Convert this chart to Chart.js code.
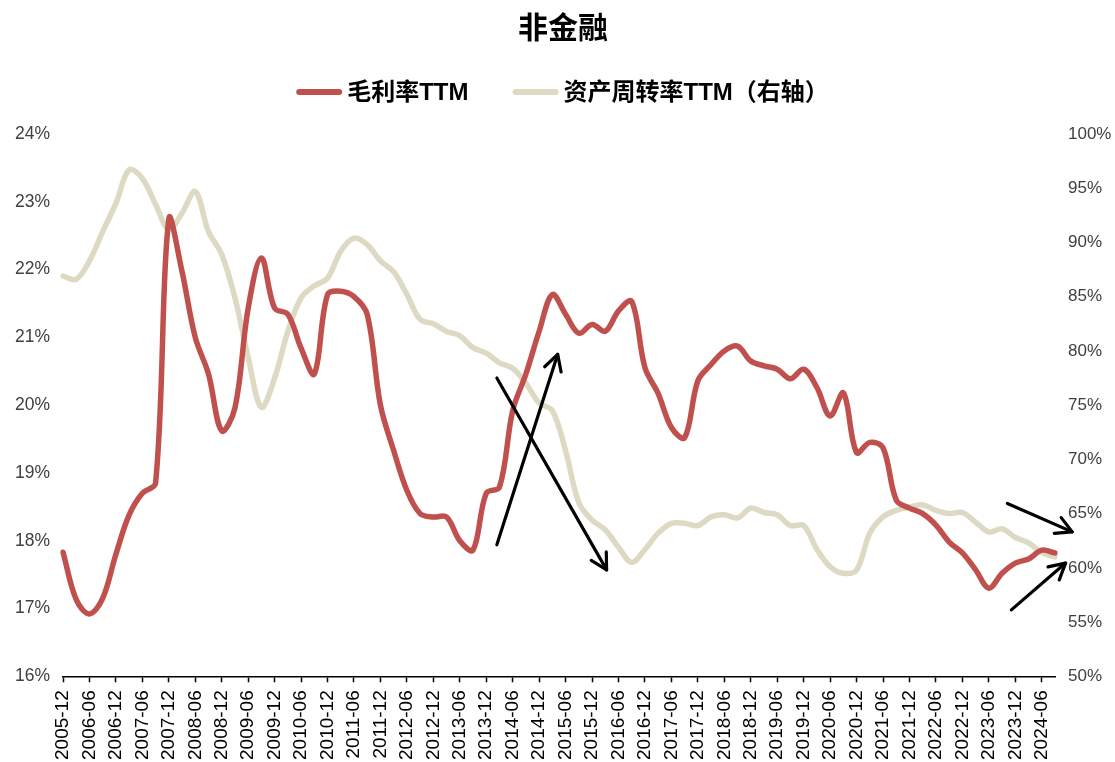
<!DOCTYPE html>
<html>
<head>
<meta charset="utf-8">
<script src="https://cdn.jsdelivr.net/npm/chart.js@4.4.1/dist/chart.umd.min.js"></script>
<style>
html,body{margin:0;padding:0;background:#fff;}
#wrap{width:1115px;height:762px;}
</style>
</head>
<body>
<div id="wrap"><canvas id="c"></canvas></div>
<script>
const categories = [
 "2005-12",
 "2006-03","2006-06","2006-09","2006-12",
 "2007-03","2007-06","2007-09","2007-12",
 "2008-03","2008-06","2008-09","2008-12",
 "2009-03","2009-06","2009-09","2009-12",
 "2010-03","2010-06","2010-09","2010-12",
 "2011-03","2011-06","2011-09","2011-12",
 "2012-03","2012-06","2012-09","2012-12",
 "2013-03","2013-06","2013-09","2013-12",
 "2014-03","2014-06","2014-09","2014-12",
 "2015-03","2015-06","2015-09","2015-12",
 "2016-03","2016-06","2016-09","2016-12",
 "2017-03","2017-06","2017-09","2017-12",
 "2018-03","2018-06","2018-09","2018-12",
 "2019-03","2019-06","2019-09","2019-12",
 "2020-03","2020-06","2020-09","2020-12",
 "2021-03","2021-06","2021-09","2021-12",
 "2022-03","2022-06","2022-09","2022-12",
 "2023-03","2023-06","2023-09","2023-12",
 "2024-03","2024-06","2024-09"
];

// 毛利率TTM (%), left axis
const grossMargin = [
 17.83,
 17.13,16.92,17.15,17.80,
 18.38,18.70,18.85,22.75,
 21.97,21.00,20.46,19.62,
 19.96,21.43,22.17,21.43,
 21.34,20.84,20.46,21.63,
 21.68,21.60,21.34,20.00,
 19.33,18.74,18.40,18.35,
 18.35,18.00,17.86,18.70,
 18.79,19.92,20.46,21.09,
 21.63,21.34,21.06,21.19,
 21.09,21.39,21.53,20.55,
 20.17,19.67,19.52,20.36,
 20.60,20.80,20.87,20.65,
 20.58,20.53,20.39,20.53,
 20.26,19.84,20.18,19.30,
 19.45,19.37,18.60,18.48,
 18.40,18.23,17.98,17.82,
 17.57,17.30,17.52,17.67,
 17.73,17.86,17.82
];

// 资产周转率TTM (%), right axis
const assetTurnover = [
 86.9,
 86.6,88.3,91.0,93.6,
 96.7,95.9,93.5,91.2,
 92.7,94.7,91.0,88.9,
 84.9,79.4,74.8,77.5,
 81.8,84.9,86.0,86.7,
 89.2,90.4,89.8,88.3,
 87.3,85.2,82.9,82.5,
 81.8,81.4,80.3,79.8,
 78.9,78.4,77.0,75.2,
 74.5,70.8,66.0,64.4,
 63.5,61.9,60.5,61.7,
 63.2,64.1,64.1,63.9,
 64.7,64.9,64.6,65.5,
 65.1,64.9,63.9,63.9,
 61.7,60.1,59.5,59.8,
 63.2,64.7,65.3,65.6,
 65.8,65.3,65.0,65.1,
 64.2,63.3,63.6,62.8,
 62.3,61.4,61.0
];

const leftTicks = {min:16, max:24, step:1};
const rightTicks = {min:50, max:100, step:5};

// annotation arrows in data space: [categoryIndex, left-axis value]
const arrows = [
 {from:[32.8,17.94], to:[37.4,20.75]},
 {from:[32.8,20.40], to:[41.1,17.57]},
 {from:[71.4,18.55], to:[76.3,18.13]},
 {from:[71.7,16.98], to:[75.8,17.67]}
];

const FONT = '"Liberation Sans", Arial, "Noto Sans CJK SC", sans-serif';

const arrowPlugin = {
  id:'arrows',
  afterDraw(chart){
    const ctx = chart.ctx, xs = chart.scales.x, ys = chart.scales.y;
    ctx.save();
    ctx.strokeStyle = '#000';
    ctx.lineWidth = 3.2;
    ctx.lineCap = 'round';
    ctx.lineJoin = 'round';
    arrows.forEach(a=>{
      const x1 = xs.getPixelForValue(a.from[0]), y1 = ys.getPixelForValue(a.from[1]);
      const x2 = xs.getPixelForValue(a.to[0]), y2 = ys.getPixelForValue(a.to[1]);
      ctx.beginPath(); ctx.moveTo(x1,y1); ctx.lineTo(x2,y2); ctx.stroke();
      const ang = Math.atan2(y2-y1,x2-x1), L = 18, w = 0.5;
      ctx.beginPath();
      ctx.moveTo(x2 - L*Math.cos(ang-w), y2 - L*Math.sin(ang-w));
      ctx.lineTo(x2,y2);
      ctx.lineTo(x2 - L*Math.cos(ang+w), y2 - L*Math.sin(ang+w));
      ctx.stroke();
    });
    ctx.restore();
  }
};

// legend drawn between the title and the plot, centred on the canvas
const legendPlugin = {
  id:'lineLegend',
  afterDraw(chart){
    const ctx = chart.ctx;
    const y = chart.chartArea.top - 42;
    const lineW = 46, gapTxt = 5, gapItem = 44;
    ctx.save();
    ctx.font = 'bold 24px ' + FONT;
    ctx.textBaseline = 'middle';
    const items = chart.data.datasets.map(d=>({text:d.label, color:d.borderColor, w: lineW + gapTxt + ctx.measureText(d.label).width}));
    const total = items.reduce((s,i)=>s+i.w,0) + gapItem*(items.length-1);
    let x = chart.width/2 + 5 - total/2;
    items.forEach(it=>{
      ctx.strokeStyle = it.color; ctx.lineWidth = 6; ctx.lineCap = 'round';
      ctx.beginPath(); ctx.moveTo(x+3,y); ctx.lineTo(x+lineW-3,y); ctx.stroke();
      ctx.fillStyle = '#000';
      ctx.fillText(it.text, x + lineW + gapTxt, y + 1);
      x += it.w + gapItem;
    });
    ctx.restore();
  }
};

new Chart(document.getElementById('c'), {
  type:'line',
  data:{
    labels:categories,
    datasets:[
      {label:'毛利率TTM', data:grossMargin, yAxisID:'y', borderColor:'#C0504D', backgroundColor:'#C0504D',
       borderWidth:5.5, pointRadius:0, tension:0.35, borderCapStyle:'round', borderJoinStyle:'round'},
      {label:'资产周转率TTM（右轴）', data:assetTurnover, yAxisID:'y1', borderColor:'#DDD9C3', backgroundColor:'#DDD9C3',
       borderWidth:5.5, pointRadius:0, tension:0.35, borderCapStyle:'round', borderJoinStyle:'round'}
    ]
  },
  options:{
    responsive:true,
    maintainAspectRatio:false,
    animation:false,
    devicePixelRatio:1,
    layout:{padding:{left:13,right:2,top:0,bottom:2}},
    plugins:{
      title:{display:true, text:'非金融', color:'#000', font:{family:FONT, size:30, weight:'bold'}, padding:{top:12,bottom:86}},
      legend:{display:false},
      tooltip:{enabled:false}
    },
    scales:{
      x:{
        type:'category',
        offset:false,
        afterFit:(s)=>{ s.paddingLeft = 0; s.paddingRight = 0; s.height -= 8; },
        grid:{display:true, drawOnChartArea:false, drawTicks:true, tickLength:6,
              tickColor:(c)=> (c.index%2===0 ? '#000' : 'rgba(0,0,0,0)'), tickWidth:1.5},
        border:{display:true, color:'#000', width:1.5},
        ticks:{autoSkip:false, maxRotation:90, minRotation:90, color:'#000', padding:8,
               font:{family:FONT, size:19},
               callback:function(v,i){ return i%2===0 ? categories[i] : ''; }}
      },
      y:{
        position:'left', min:leftTicks.min, max:leftTicks.max,
        afterFit:(s)=>{ s.width = 50; },
        grid:{display:false, drawTicks:false}, border:{display:false},
        ticks:{stepSize:leftTicks.step, color:'#404040', padding:13, font:{family:FONT, size:17.5},
               callback:(v)=> v+'%'}
      },
      y1:{
        position:'right', min:rightTicks.min, max:rightTicks.max,
        afterFit:(s)=>{ s.width = 58; },
        grid:{display:false, drawTicks:false}, border:{display:false},
        ticks:{stepSize:rightTicks.step, color:'#404040', padding:13, font:{family:FONT, size:17},
               callback:(v)=> v+'%'}
      }
    }
  },
  plugins:[arrowPlugin, legendPlugin]
});
</script>
</body>
</html>
